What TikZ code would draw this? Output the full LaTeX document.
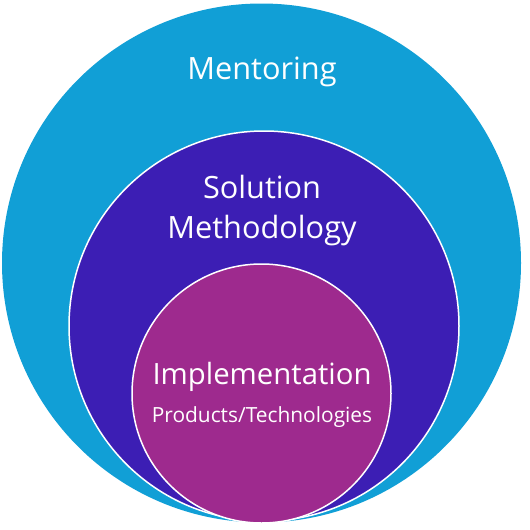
\documentclass[tikz,border=0pt]{standalone}
\usepackage{fontspec}
\setmainfont{Open Sans}
\definecolor{mentorblue}{RGB}{17,159,214}
\definecolor{methodviolet}{RGB}{60,30,180}
\definecolor{implpurple}{RGB}{158,42,142}
\begin{document}
\begin{tikzpicture}[x=1pt, y=-1pt, declare function={ra=259.5; rb=195; rc=129.5;},
  big/.style={text=white, anchor=base, inner sep=0pt, font=\fontsize{30.7}{36}\selectfont},
  mid/.style={big, font=\fontsize{29.3}{34}\selectfont},
  small/.style={big, font=\fontsize{20.9}{25}\selectfont}]
  \useasboundingbox (0,0) rectangle (530,530);
  \path (261.5,263) coordinate (M) (264,326) coordinate (S) (261.5,393.5) coordinate (I);
  \fill[mentorblue] (M) circle (ra);
  \filldraw[fill=methodviolet, draw=white, line width=1.5pt] (S) circle (rb);
  \filldraw[fill=implpurple, draw=white, line width=1.5pt] (I) circle (rc);
  \foreach \n/\y/\t/\s in {mt/79/Mentoring/big, so/198/Solution/big, me/238/Methodology/big,
      im/384/Implementation/mid, pt/422/Products\slash Technologies/small}{
    \node[\s] (\n) at (262,\y) {\t};
  }
\end{tikzpicture}
\end{document}
